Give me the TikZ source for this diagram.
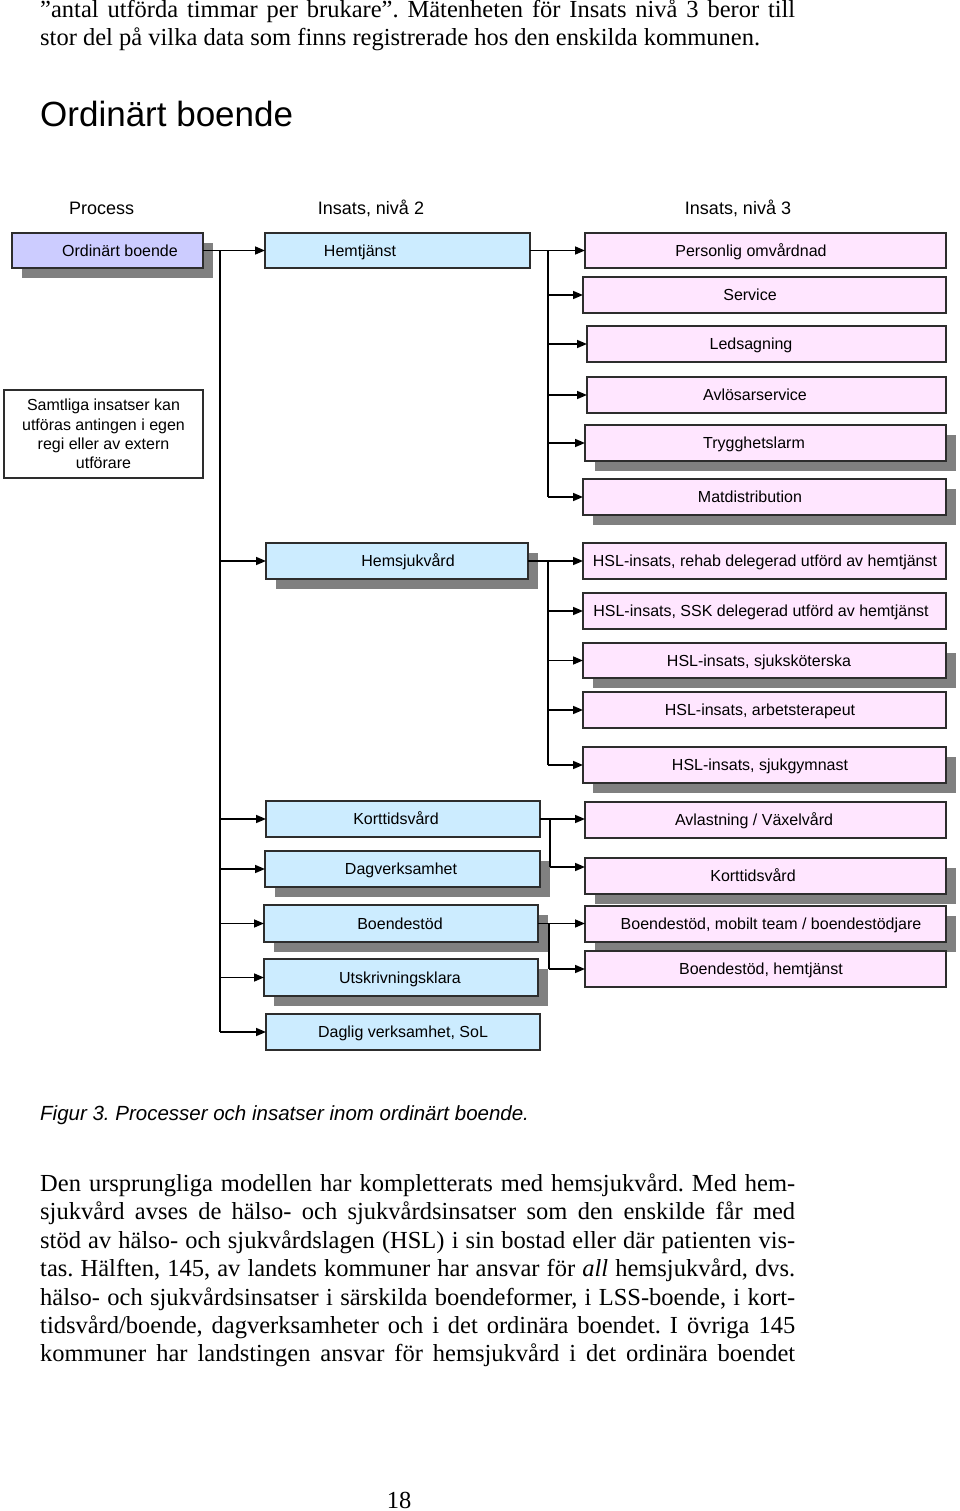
\documentclass[tikz,border=0pt]{standalone}
\usepackage{fontspec}
\setmainfont{Liberation Serif}
\newfontfamily\arial{Liberation Sans}
\usetikzlibrary{arrows.meta,shadows}
\definecolor{lav}{RGB}{204,204,255}
\definecolor{lblue}{RGB}{204,236,255}
\definecolor{lpink}{RGB}{255,230,255}
\definecolor{bord}{RGB}{45,45,45}
\definecolor{shd}{RGB}{128,128,128}
\frenchspacing
\newcommand\DBox[8]{%
  \pgfmathsetmacro\bw{#5-#3}%
  \pgfmathsetmacro\bh{#6-#4}%
  \pgfmathsetmacro\bcx{(#3+#5)/2}%
  \pgfmathsetmacro\bcy{(#4+#6)/2}%
  \pgfmathsetmacro\bty{(#4+#6)/2+5.8}%
  \node[#2, minimum width=\bw pt, minimum height=\bh pt] (#1) at (\bcx,\bcy) {};
  \node[txt] (#1-t) at (#7,\bty) {#8};}
\begin{document}
\begin{tikzpicture}[x=1pt,y=-1pt,
  box/.style={draw=bord, line width=1.3pt, inner sep=0pt, outer sep=0pt},
  shbox/.style={box, drop shadow={shadow xshift=10pt,shadow yshift=-10pt,fill=shd,opacity=1}},
  txt/.style={font=\arial\fontsize{16}{19.3}\selectfont, inner sep=0pt, anchor=base},
  body/.style={font=\fontsize{24.5}{28.4}\selectfont, inner sep=0pt, anchor=base west},
  colh/.style={font=\arial\fontsize{18}{21}\selectfont, inner sep=0pt, anchor=base},
  ln/.style={line width=1.6pt, black},
  arr/.style={ln, -{Triangle[length=10pt,width=8pt]}}]
\fill[white] (0,0) rectangle (960,1511);
\useasboundingbox (0,0) rectangle (960,1511);

% top text
\node[body] (t1) at (40,18) {\makebox[755pt][s]{”antal utförda timmar per brukare”. Mätenheten för Insats nivå 3 beror till}};
\node[body] (t2) at (40,46) {stor del på vilka data som finns registrerade hos den enskilda kommunen.};
\node[font=\arial\fontsize{35}{40}\selectfont, inner sep=0pt, anchor=base west] (head) at (40,127) {Ordinärt boende};

% column headers
\node[colh] (colp) at (101.7,215) {Process};
\node[colh] (col2) at (371,215) {Insats, nivå 2};
\node[colh] (col3) at (738,215) {Insats, nivå 3};

% boxes
\DBox{ob}{shbox,fill=lav}{12}{233}{203}{268}{120}{Ordinärt boende}
\DBox{hemtj}{box,fill=lblue}{265}{233}{530}{268}{360}{Hemtjänst}
\DBox{pers}{box,fill=lpink}{585}{233}{946}{268}{751}{Personlig omvårdnad}
\DBox{serv}{box,fill=lpink}{583}{277}{946}{313}{750}{Service}
\DBox{leds}{box,fill=lpink}{587}{326}{946}{362}{751}{Ledsagning}
\DBox{avlos}{box,fill=lpink}{587}{377}{946}{413}{755}{Avlösarservice}
\DBox{tryg}{shbox,fill=lpink}{585}{425}{946}{461}{754}{Trygghetslarm}
\DBox{mat}{shbox,fill=lpink}{583}{479}{946}{515}{750}{Matdistribution}

\node[box, fill=white, minimum width=199pt, minimum height=88pt, align=center,
      font=\arial\fontsize{16}{19.3}\selectfont] (samt) at (103.5,434)
      {Samtliga insatser kan\\utföras antingen i egen\\regi eller av extern\\utförare};

\DBox{hems}{shbox,fill=lblue}{266}{543}{528}{579}{408}{Hemsjukvård}
\DBox{hsla}{box,fill=lpink}{583}{543}{946}{579}{765}{HSL-insats, rehab delegerad utförd av hemtjänst}
\DBox{hslb}{box,fill=lpink}{583}{593}{946}{629}{761}{HSL-insats, SSK delegerad utförd av hemtjänst}
\DBox{hslc}{shbox,fill=lpink}{583}{643}{946}{678}{759}{HSL-insats, sjuksköterska}
\DBox{hsld}{box,fill=lpink}{583}{692}{946}{728}{760}{HSL-insats, arbetsterapeut}
\DBox{hsle}{shbox,fill=lpink}{583}{747}{946}{783}{760}{HSL-insats, sjukgymnast}

\DBox{kt}{box,fill=lblue}{266}{801}{540}{837}{396}{Korttidsvård}
\DBox{dag}{shbox,fill=lblue}{265}{851}{540}{887}{401}{Dagverksamhet}
\DBox{bs}{shbox,fill=lblue}{264}{905}{538}{942}{400}{Boendestöd}
\DBox{utsk}{shbox,fill=lblue}{264}{959}{538}{996}{400}{Utskrivningsklara}
\DBox{dagl}{box,fill=lblue}{266}{1014}{540}{1050}{403}{Daglig verksamhet, SoL}

\DBox{avl}{box,fill=lpink}{585}{802}{946}{838}{754}{Avlastning / Växelvård}
\DBox{ktp}{shbox,fill=lpink}{585}{858}{946}{894}{753}{Korttidsvård}
\DBox{bsm}{shbox,fill=lpink}{585}{906}{946}{942}{771}{Boendestöd, mobilt team / boendestödjare}
\DBox{bsh}{box,fill=lpink}{585}{951}{946}{987}{761}{Boendestöd, hemtjänst}

% main connectors
\coordinate (vtop) at (220,250.5);
\draw[arr] (ob.east) -- (hemtj.west);
\draw[ln] (vtop) -- (vtop |- dagl.west);
\foreach \n in {hems,kt,dag,bs,utsk,dagl}
  \draw[arr] (vtop |- \n.west) -- (\n.west);

% Hemtjänst branch
\coordinate (h2) at (548,250.5);
\draw[ln] (hemtj.east) -- (h2) -- (h2 |- mat.west);
\foreach \n in {pers,serv,leds,avlos,tryg,mat}
  \draw[arr] (h2 |- \n.west) -- (\n.west);

% Hemsjukvård branch
\coordinate (s2) at (548,561);
\draw[ln] (hems.east) -- (s2) -- (s2 |- hsle.west);
\foreach \n in {hsla,hslb,hslc,hsld,hsle}
  \draw[arr] (s2 |- \n.west) -- (\n.west);

% Korttidsvård branch
\coordinate (k2) at (550,819);
\coordinate (ktin) at ([yshift=9pt]ktp.west);
\draw[ln] (kt.east) -- (k2) -- (k2 |- ktin);
\draw[arr] (k2) -- (k2 -| avl.west);
\draw[arr] (k2 |- ktin) -- (ktin);

% Boendestöd branch
\coordinate (b2) at (549,923.5);
\draw[ln] (bs.east) -- (b2) -- (b2 |- bsh.west);
\draw[arr] (b2) -- (b2 -| bsm.west);
\draw[arr] (b2 |- bsh.west) -- (bsh.west);

% caption
\node[font=\arial\itshape\fontsize{20.5}{24}\selectfont, inner sep=0pt, anchor=base west] (cap) at (40,1120) {Figur 3. Processer och insatser inom ordinärt boende.};

% body text
\node[body] (p1) at (40,1191.5) {\makebox[755pt][s]{Den ursprungliga modellen har kompletterats med hemsjukvård. Med hem-}};
\node[body] (p2) at (40,1219.9) {\makebox[755pt][s]{sjukvård avses de hälso- och sjukvårdsinsatser som den enskilde får med}};
\node[body] (p3) at (40,1248.3) {\makebox[755pt][s]{stöd av hälso- och sjukvårdslagen (HSL) i sin bostad eller där patienten vis-}};
\node[body] (p4) at (40,1276.7) {\makebox[755pt][s]{tas. Hälften, 145, av landets kommuner har ansvar för \textit{all} hemsjukvård, dvs.}};
\node[body] (p5) at (40,1305.1) {\makebox[755pt][s]{hälso- och sjukvårdsinsatser i särskilda boendeformer, i LSS-boende, i kort-}};
\node[body] (p6) at (40,1333.5) {\makebox[755pt][s]{tidsvård/boende, dagverksamheter och i det ordinära boendet. I övriga 145}};
\node[body] (p7) at (40,1361.9) {\makebox[755pt][s]{kommuner har landstingen ansvar för hemsjukvård i det ordinära boendet}};

\node[font=\fontsize{24.5}{28}\selectfont, inner sep=0pt, anchor=base] (pg) at (399,1508) {18};
\end{tikzpicture}
\end{document}
